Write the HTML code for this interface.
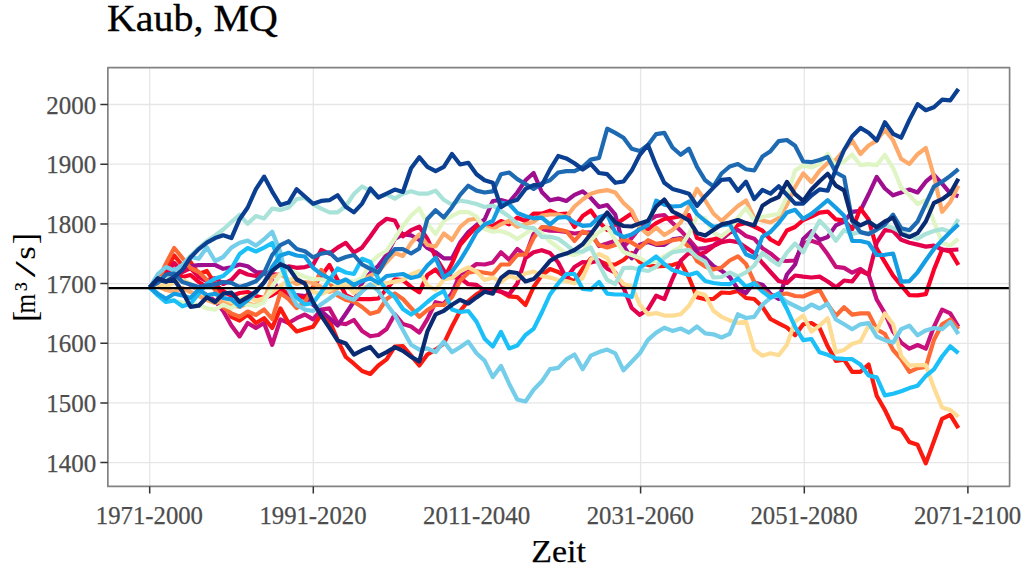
<!DOCTYPE html><html><head><meta charset="utf-8"><title>Kaub, MQ</title>
<style>html,body{margin:0;padding:0;background:#fff;}svg{display:block;font-family:"Liberation Serif","DejaVu Serif",serif;}</style></head><body>
<svg width="1031" height="567" viewBox="0 0 1031 567">
<rect x="0" y="0" width="1031" height="567" fill="#fff"/>
<path d="M149.7 67.6 V486.4 M313.3 67.6 V486.4 M640.6 67.6 V486.4 M804.3 67.6 V486.4 M967.9 67.6 V486.4 M107.85 462.6 H1009.6 M107.85 402.9 H1009.6 M107.85 343.3 H1009.6 M107.85 283.6 H1009.6 M107.85 223.9 H1009.6 M107.85 164.2 H1009.6 M107.85 104.5 H1009.6" stroke="#e6e6e6" stroke-width="1.3" fill="none"/>
<g fill="none" stroke-width="4.2" stroke-linejoin="round" stroke-linecap="butt">
<path d="M149.7 287.5 L157.9 283.0 L166.0 280.0 L174.2 275.0 L182.4 280.0 L190.5 285.0 L198.7 290.0 L206.9 295.0 L215.1 301.0 L223.2 310.9 L231.4 325.5 L239.6 336.4 L247.7 323.0 L255.9 327.9 L264.1 323.0 L272.2 344.9 L280.4 319.4 L288.6 323.0 L296.7 318.2 L304.9 314.5 L313.1 319.4 L321.2 309.6 L329.4 308.4 L337.6 323.0 L345.8 324.2 L353.9 320.0 L362.1 331.0 L370.3 336.3 L378.4 335.0 L386.6 329.0 L394.8 314.3 L402.9 324.1 L411.1 326.5 L419.3 332.6 L427.4 319.2 L435.6 302.2 L443.8 304.0 L452.0 293.0 L460.1 274.0 L468.3 270.0 L476.5 264.0 L484.6 264.5 L492.8 262.5 L501.0 252.3 L509.1 259.7 L517.3 248.9 L525.5 255.7 L533.6 234.0 L541.8 229.2 L550.0 230.6 L558.2 231.0 L566.3 232.0 L574.5 233.5 L582.7 232.6 L590.8 232.3 L599.0 246.0 L607.2 243.5 L615.3 240.7 L623.5 246.8 L631.7 238.0 L639.8 228.0 L648.0 221.0 L656.2 216.0 L664.3 215.0 L672.5 223.0 L680.7 230.6 L688.9 239.4 L697.0 248.9 L705.2 248.2 L713.4 245.5 L721.5 239.4 L729.7 232.6 L737.9 229.9 L746.0 236.0 L754.2 238.7 L762.4 248.2 L770.5 253.4 L778.7 260.3 L786.9 261.0 L795.1 260.5 L803.2 243.6 L811.4 240.7 L819.6 243.6 L827.7 254.3 L835.9 266.9 L844.1 267.9 L852.2 272.7 L860.4 268.9 L868.6 274.7 L876.7 299.5 L884.9 313.4 L893.1 331.6 L901.2 342.6 L909.4 348.7 L917.6 345.0 L925.8 348.7 L933.9 326.8 L942.1 309.7 L950.3 313.4 L958.4 326.8" stroke="#c8107c"/>
<path d="M149.7 287.5 L157.9 283.0 L166.0 270.0 L174.2 255.5 L182.4 265.5 L190.5 262.0 L198.7 274.0 L206.9 271.0 L215.1 284.0 L223.2 300.0 L231.4 316.9 L239.6 320.6 L247.7 314.5 L255.9 323.0 L264.1 318.2 L272.2 327.9 L280.4 308.4 L288.6 323.0 L296.7 331.5 L304.9 329.1 L313.1 326.7 L321.2 314.5 L329.4 320.6 L337.6 340.1 L345.8 357.0 L353.9 363.7 L362.1 371.0 L370.3 374.0 L378.4 365.5 L386.6 359.4 L394.8 346.5 L402.9 346.0 L411.1 355.7 L419.3 365.5 L427.4 354.5 L435.6 349.6 L443.8 343.6 L452.0 326.5 L460.1 311.0 L468.3 301.2 L476.5 294.4 L484.6 289.6 L492.8 289.0 L501.0 291.7 L509.1 296.4 L517.3 297.1 L525.5 305.0 L533.6 287.0 L541.8 275.4 L550.0 269.0 L558.2 272.0 L566.3 277.0 L574.5 281.5 L582.7 268.6 L590.8 258.5 L599.0 261.0 L607.2 264.5 L615.3 264.5 L623.5 260.0 L631.7 253.0 L639.8 262.0 L648.0 265.0 L656.2 266.5 L664.3 266.0 L672.5 265.0 L680.7 262.5 L688.9 277.5 L697.0 297.1 L705.2 299.3 L713.4 298.8 L721.5 292.5 L729.7 293.0 L737.9 291.0 L746.0 298.0 L754.2 299.0 L762.4 306.8 L770.5 319.0 L778.7 323.3 L786.9 327.5 L795.1 335.3 L803.2 324.3 L811.4 323.0 L819.6 328.0 L827.7 346.3 L835.9 360.9 L844.1 359.6 L852.2 371.8 L860.4 371.8 L868.6 364.5 L876.7 395.8 L884.9 410.0 L893.1 427.0 L901.2 429.7 L909.4 442.1 L917.6 444.8 L925.8 463.4 L933.9 441.3 L942.1 418.8 L950.3 414.9 L958.4 428.2" stroke="#fb1a10"/>
<path d="M149.7 287.5 L157.9 282.0 L166.0 276.0 L174.2 270.0 L182.4 267.0 L190.5 266.0 L198.7 265.2 L206.9 265.0 L215.1 265.0 L223.2 268.8 L231.4 267.2 L239.6 264.5 L247.7 266.2 L255.9 272.0 L264.1 272.6 L272.2 280.0 L280.4 292.0 L288.6 298.0 L296.7 295.0 L304.9 296.0 L313.1 304.9 L321.2 311.0 L329.4 318.0 L337.6 325.5 L345.8 313.7 L353.9 301.5 L362.1 282.8 L370.3 273.0 L378.4 265.7 L386.6 254.8 L394.8 238.9 L402.9 234.1 L411.1 235.3 L419.3 240.0 L427.4 248.0 L435.6 252.3 L443.8 258.4 L452.0 258.4 L460.1 242.6 L468.3 232.0 L476.5 225.0 L484.6 219.5 L492.8 201.0 L501.0 200.0 L509.1 202.2 L517.3 192.5 L525.5 180.3 L533.6 173.0 L541.8 192.0 L550.0 200.3 L558.2 198.6 L566.3 201.0 L574.5 194.9 L582.7 191.3 L590.8 198.0 L599.0 207.0 L607.2 205.0 L615.3 214.7 L623.5 246.2 L631.7 258.4 L639.8 244.8 L648.0 242.1 L656.2 244.8 L664.3 244.8 L672.5 239.4 L680.7 238.0 L688.9 243.0 L697.0 252.0 L705.2 258.0 L713.4 266.0 L721.5 270.6 L729.7 277.0 L737.9 289.0 L746.0 293.0 L754.2 282.5 L762.4 284.7 L770.5 294.0 L778.7 299.0 L786.9 274.5 L795.1 264.5 L803.2 239.0 L811.4 231.2 L819.6 239.9 L827.7 237.0 L835.9 225.4 L844.1 221.5 L852.2 211.8 L860.4 210.8 L868.6 194.3 L876.7 176.9 L884.9 188.5 L893.1 195.3 L901.2 192.4 L909.4 189.5 L917.6 192.4 L925.8 181.7 L933.9 174.9 L942.1 183.6 L950.3 193.3 L958.4 196.3" stroke="#a00e90"/>
<path d="M149.7 287.5 L157.9 285.0 L166.0 279.0 L174.2 270.0 L182.4 277.0 L190.5 275.0 L198.7 282.0 L206.9 287.0 L215.1 284.0 L223.2 291.0 L231.4 296.0 L239.6 293.0 L247.7 292.0 L255.9 296.0 L264.1 298.0 L272.2 295.0 L280.4 290.0 L288.6 293.0 L296.7 296.0 L304.9 298.0 L313.1 287.0 L321.2 276.0 L329.4 265.0 L337.6 280.0 L345.8 295.0 L353.9 299.1 L362.1 299.1 L370.3 299.1 L378.4 298.5 L386.6 289.0 L394.8 279.4 L402.9 280.1 L411.1 286.9 L419.3 292.3 L427.4 275.0 L435.6 269.5 L443.8 279.0 L452.0 263.3 L460.1 244.8 L468.3 235.3 L476.5 226.5 L484.6 227.2 L492.8 225.8 L501.0 221.0 L509.1 224.4 L517.3 217.7 L525.5 221.0 L533.6 213.6 L541.8 213.6 L550.0 210.6 L558.2 214.3 L566.3 213.6 L574.5 227.0 L582.7 216.0 L590.8 210.5 L599.0 222.0 L607.2 230.0 L615.3 224.4 L623.5 219.0 L631.7 213.6 L639.8 226.0 L648.0 229.2 L656.2 223.1 L664.3 219.0 L672.5 217.7 L680.7 216.3 L688.9 215.0 L697.0 238.0 L705.2 240.7 L713.4 239.4 L721.5 236.7 L729.7 231.0 L737.9 225.0 L746.0 223.0 L754.2 226.5 L762.4 230.6 L770.5 239.5 L778.7 244.0 L786.9 230.5 L795.1 227.0 L803.2 220.0 L811.4 216.5 L819.6 212.6 L827.7 211.6 L835.9 219.4 L844.1 220.4 L852.2 229.1 L860.4 208.5 L868.6 219.4 L876.7 248.5 L884.9 262.1 L893.1 275.7 L901.2 285.4 L909.4 295.1 L917.6 295.4 L925.8 294.1 L933.9 269.8 L942.1 249.5 L950.3 251.4 L958.4 265.0" stroke="#fa0029"/>
<path d="M149.7 287.5 L157.9 284.0 L166.0 274.0 L174.2 263.0 L182.4 272.0 L190.5 268.0 L198.7 277.0 L206.9 281.0 L215.1 278.0 L223.2 284.0 L231.4 280.0 L239.6 271.0 L247.7 274.5 L255.9 276.0 L264.1 272.0 L272.2 274.0 L280.4 275.0 L288.6 266.4 L296.7 267.8 L304.9 267.1 L313.1 264.7 L321.2 250.0 L329.4 253.7 L337.6 247.6 L345.8 242.8 L353.9 252.5 L362.1 247.6 L370.3 236.5 L378.4 225.0 L386.6 218.8 L394.8 220.5 L402.9 236.3 L411.1 230.2 L419.3 226.6 L427.4 238.8 L435.6 257.2 L443.8 270.6 L452.0 277.0 L460.1 278.0 L468.3 284.2 L476.5 284.9 L484.6 290.6 L492.8 290.0 L501.0 291.7 L509.1 294.4 L517.3 283.5 L525.5 258.0 L533.6 252.3 L541.8 250.2 L550.0 253.0 L558.2 262.5 L566.3 278.0 L574.5 267.0 L582.7 262.0 L590.8 262.5 L599.0 260.4 L607.2 268.6 L615.3 272.7 L623.5 287.6 L631.7 308.0 L639.8 314.8 L648.0 309.3 L656.2 295.7 L664.3 299.1 L672.5 278.8 L680.7 260.8 L688.9 253.0 L697.0 255.0 L705.2 252.3 L713.4 246.2 L721.5 242.1 L729.7 240.7 L737.9 242.1 L746.0 247.5 L754.2 253.0 L762.4 263.0 L770.5 272.0 L778.7 281.0 L786.9 283.0 L795.1 275.5 L803.2 276.6 L811.4 277.5 L819.6 276.6 L827.7 281.5 L835.9 287.3 L844.1 280.5 L852.2 281.5 L860.4 270.8 L868.6 274.7 L876.7 242.7 L884.9 230.1 L893.1 231.0 L901.2 239.8 L909.4 242.7 L917.6 244.6 L925.8 246.6 L933.9 245.6 L942.1 249.5 L950.3 250.0 L958.4 249.5" stroke="#e3004c"/>
<path d="M149.7 287.5 L157.9 281.0 L166.0 263.5 L174.2 248.0 L182.4 258.0 L190.5 268.0 L198.7 272.0 L206.9 280.0 L215.1 290.0 L223.2 307.0 L231.4 313.5 L239.6 316.8 L247.7 311.5 L255.9 315.0 L264.1 309.5 L272.2 319.0 L280.4 293.0 L288.6 299.0 L296.7 308.0 L304.9 302.0 L313.1 288.0 L321.2 270.0 L329.4 282.0 L337.6 295.5 L345.8 300.0 L353.9 301.8 L362.1 307.0 L370.3 313.8 L378.4 311.5 L386.6 299.0 L394.8 293.5 L402.9 299.0 L411.1 308.0 L419.3 316.8 L427.4 310.0 L435.6 305.0 L443.8 305.0 L452.0 297.0 L460.1 280.8 L468.3 272.7 L476.5 271.3 L484.6 272.7 L492.8 274.0 L501.0 264.5 L509.1 264.5 L517.3 255.0 L525.5 254.3 L533.6 238.0 L541.8 227.0 L550.0 227.4 L558.2 229.6 L566.3 231.2 L574.5 241.0 L582.7 231.4 L590.8 235.0 L599.0 245.0 L607.2 247.5 L615.3 245.0 L623.5 238.9 L631.7 242.6 L639.8 247.5 L648.0 240.2 L656.2 243.8 L664.3 242.6 L672.5 240.2 L680.7 238.9 L688.9 247.0 L697.0 261.0 L705.2 266.5 L713.4 269.5 L721.5 267.5 L729.7 260.5 L737.9 256.3 L746.0 264.0 L754.2 281.8 L762.4 290.0 L770.5 296.0 L778.7 294.6 L786.9 293.5 L795.1 296.0 L803.2 296.5 L811.4 293.0 L819.6 290.0 L827.7 304.5 L835.9 315.8 L844.1 307.3 L852.2 314.6 L860.4 313.4 L868.6 313.4 L876.7 329.2 L884.9 334.0 L893.1 350.0 L901.2 359.0 L909.4 371.8 L917.6 368.2 L925.8 367.0 L933.9 340.0 L942.1 324.3 L950.3 319.5 L958.4 329.2" stroke="#fd6a35"/>
<path d="M149.7 287.5 L157.9 286.0 L166.0 290.0 L174.2 292.0 L182.4 288.0 L190.5 292.0 L198.7 296.0 L206.9 300.0 L215.1 303.0 L223.2 301.0 L231.4 305.0 L239.6 307.0 L247.7 303.0 L255.9 306.0 L264.1 300.0 L272.2 277.0 L280.4 274.0 L288.6 280.0 L296.7 284.0 L304.9 282.0 L313.1 283.0 L321.2 287.0 L329.4 292.0 L337.6 288.0 L345.8 284.0 L353.9 286.0 L362.1 280.0 L370.3 275.5 L378.4 272.0 L386.6 262.0 L394.8 253.0 L402.9 256.0 L411.1 243.0 L419.3 234.5 L427.4 245.0 L435.6 246.5 L443.8 233.5 L452.0 240.0 L460.1 227.0 L468.3 220.0 L476.5 218.5 L484.6 226.7 L492.8 229.2 L501.0 224.3 L509.1 220.6 L517.3 226.7 L525.5 224.3 L533.6 221.8 L541.8 215.7 L550.0 214.5 L558.2 214.5 L566.3 217.0 L574.5 206.5 L582.7 199.5 L590.8 193.7 L599.0 191.3 L607.2 190.1 L615.3 192.5 L623.5 203.0 L631.7 210.5 L639.8 227.5 L648.0 234.5 L656.2 227.6 L664.3 235.0 L672.5 230.0 L680.7 222.5 L688.9 206.5 L697.0 188.9 L705.2 200.5 L713.4 213.5 L721.5 221.0 L729.7 213.5 L737.9 206.0 L746.0 200.5 L754.2 217.8 L762.4 220.5 L770.5 222.5 L778.7 218.0 L786.9 205.0 L795.1 187.0 L803.2 173.5 L811.4 182.0 L819.6 170.8 L827.7 163.0 L835.9 160.0 L844.1 150.0 L852.2 140.6 L860.4 154.0 L868.6 145.5 L876.7 140.6 L884.9 129.6 L893.1 140.3 L901.2 159.0 L909.4 164.0 L917.6 154.2 L925.8 148.0 L933.9 176.0 L942.1 211.8 L950.3 202.0 L958.4 185.6" stroke="#fdaa6a"/>
<path d="M149.7 287.5 L157.9 284.0 L166.0 286.0 L174.2 283.0 L182.4 280.0 L190.5 284.0 L198.7 290.0 L206.9 296.0 L215.1 294.0 L223.2 298.0 L231.4 302.0 L239.6 300.0 L247.7 296.0 L255.9 301.0 L264.1 298.0 L272.2 292.0 L280.4 286.0 L288.6 280.0 L296.7 278.0 L304.9 284.0 L313.1 292.0 L321.2 294.0 L329.4 290.0 L337.6 285.6 L345.8 284.2 L353.9 293.0 L362.1 288.0 L370.3 285.2 L378.4 284.0 L386.6 283.2 L394.8 281.5 L402.9 280.0 L411.1 274.5 L419.3 271.0 L427.4 285.5 L435.6 290.0 L443.8 279.5 L452.0 278.0 L460.1 271.4 L468.3 267.3 L476.5 271.5 L484.6 280.0 L492.8 277.5 L501.0 282.0 L509.1 276.0 L517.3 278.5 L525.5 273.5 L533.6 271.5 L541.8 275.8 L550.0 277.6 L558.2 280.0 L566.3 281.0 L574.5 283.5 L582.7 278.0 L590.8 259.5 L599.0 254.0 L607.2 258.0 L615.3 273.5 L623.5 284.1 L631.7 286.2 L639.8 304.6 L648.0 314.3 L656.2 313.1 L664.3 315.6 L672.5 315.6 L680.7 314.3 L688.9 305.8 L697.0 292.4 L705.2 294.9 L713.4 310.7 L721.5 316.8 L729.7 320.4 L737.9 322.9 L746.0 321.6 L754.2 349.6 L762.4 355.7 L770.5 353.3 L778.7 355.2 L786.9 344.8 L795.1 321.6 L803.2 315.6 L811.4 331.6 L819.6 325.6 L827.7 318.3 L835.9 352.3 L844.1 349.9 L852.2 343.8 L860.4 341.4 L868.6 325.6 L876.7 330.4 L884.9 313.4 L893.1 324.3 L901.2 356.0 L909.4 365.7 L917.6 365.2 L925.8 365.2 L933.9 387.6 L942.1 407.5 L950.3 410.0 L958.4 416.8" stroke="#fedc94"/>
<path d="M149.7 287.5 L157.9 293.8 L166.0 298.7 L174.2 301.1 L182.4 302.3 L190.5 303.6 L198.7 304.8 L206.9 308.4 L215.1 309.6 L223.2 304.8 L231.4 308.4 L239.6 302.3 L247.7 304.8 L255.9 306.0 L264.1 302.3 L272.2 286.5 L280.4 274.3 L288.6 269.5 L296.7 273.1 L304.9 276.8 L313.1 279.2 L321.2 279.3 L329.4 281.0 L337.6 283.0 L345.8 280.0 L353.9 282.0 L362.1 278.0 L370.3 263.0 L378.4 255.5 L386.6 250.8 L394.8 238.5 L402.9 225.9 L411.1 215.6 L419.3 208.3 L427.4 223.9 L435.6 234.0 L443.8 221.0 L452.0 216.0 L460.1 211.8 L468.3 212.2 L476.5 216.5 L484.6 229.0 L492.8 231.7 L501.0 231.0 L509.1 234.0 L517.3 239.0 L525.5 233.5 L533.6 228.5 L541.8 233.0 L550.0 241.5 L558.2 247.5 L566.3 254.0 L574.5 255.0 L582.7 252.0 L590.8 240.0 L599.0 232.0 L607.2 227.0 L615.3 240.0 L623.5 252.0 L631.7 255.0 L639.8 258.0 L648.0 263.0 L656.2 261.0 L680.7 246.8 L688.9 233.9 L697.0 216.3 L705.2 218.3 L713.4 232.6 L721.5 236.7 L729.7 229.9 L737.9 217.8 L746.0 208.0 L754.2 220.0 L762.4 217.0 L770.5 215.4 L778.7 214.0 L786.9 196.8 L795.1 170.5 L803.2 165.4 L811.4 167.5 L819.6 163.8 L827.7 153.8 L835.9 166.0 L844.1 161.3 L852.2 154.5 L860.4 165.2 L868.6 164.2 L876.7 165.2 L884.9 154.8 L893.1 168.1 L901.2 187.5 L909.4 195.3 L917.6 204.0 L925.8 200.1 L933.9 221.5 L942.1 242.8 L950.3 245.7 L958.4 238.9" stroke="#dff5c4"/>
<path d="M149.7 287.5 L157.9 279.0 L166.0 277.0 L174.2 272.0 L182.4 265.0 L190.5 256.0 L198.7 248.0 L206.9 241.0 L215.1 235.5 L223.2 229.5 L231.4 222.0 L239.6 214.8 L247.7 223.8 L255.9 216.0 L264.1 218.4 L272.2 208.7 L280.4 209.9 L288.6 207.5 L296.7 199.0 L304.9 198.0 L313.1 204.3 L321.2 208.7 L329.4 212.3 L337.6 212.3 L345.8 206.0 L353.9 194.0 L362.1 186.5 L370.3 190.8 L378.4 197.0 L386.6 194.4 L394.8 198.6 L402.9 193.7 L411.1 191.3 L419.3 193.7 L427.4 193.7 L435.6 190.6 L443.8 199.8 L452.0 204.7 L460.1 200.5 L468.3 202.0 L476.5 204.0 L484.6 207.0 L492.8 205.5 L501.0 211.0 L509.1 216.5 L517.3 223.5 L525.5 227.3 L533.6 228.0 L541.8 237.0 L550.0 236.7 L558.2 238.7 L566.3 244.8 L574.5 251.5 L582.7 251.5 L590.8 247.5 L599.0 264.5 L607.2 280.0 L615.3 284.0 L623.5 268.0 L631.7 267.7 L639.8 269.5 L648.0 271.0 L656.2 266.8 L664.3 258.0 L672.5 252.3 L680.7 251.0 L688.9 249.8 L697.0 257.0 L705.2 261.5 L713.4 277.5 L721.5 277.0 L729.7 272.5 L737.9 276.5 L746.0 272.3 L754.2 265.5 L762.4 253.0 L770.5 259.4 L778.7 265.0 L786.9 252.7 L795.1 243.5 L803.2 252.3 L811.4 235.5 L819.6 220.8 L827.7 229.0 L835.9 240.7 L844.1 230.1 L852.2 233.9 L860.4 232.0 L868.6 234.0 L876.7 230.0 L884.9 225.2 L893.1 228.0 L901.2 232.0 L909.4 236.0 L917.6 238.8 L925.8 233.9 L933.9 231.0 L942.1 229.1 L950.3 232.0 L958.4 219.2" stroke="#a8e2d8"/>
<path d="M149.7 287.5 L157.9 274.0 L166.0 267.0 L174.2 270.5 L182.4 265.0 L190.5 257.0 L198.7 258.8 L206.9 247.2 L215.1 261.0 L223.2 257.0 L231.4 247.6 L239.6 242.7 L247.7 240.6 L255.9 245.6 L264.1 239.2 L272.2 231.8 L280.4 252.0 L288.6 290.0 L296.7 304.9 L304.9 309.6 L313.1 311.0 L321.2 304.2 L329.4 298.5 L337.6 292.5 L345.8 297.0 L353.9 299.8 L362.1 291.5 L370.3 284.2 L378.4 291.0 L386.6 304.0 L394.8 315.0 L402.9 330.0 L411.1 344.8 L419.3 349.6 L427.4 348.4 L435.6 352.1 L443.8 341.6 L452.0 352.1 L460.1 347.2 L468.3 341.6 L476.5 353.3 L484.6 360.6 L492.8 377.1 L501.0 365.9 L509.1 383.7 L517.3 399.5 L525.5 401.5 L533.6 389.8 L541.8 381.3 L550.0 369.1 L558.2 367.9 L566.3 359.4 L574.5 354.5 L582.7 369.1 L590.8 355.7 L599.0 352.1 L607.2 349.6 L615.3 353.3 L623.5 370.3 L631.7 361.8 L639.8 353.3 L648.0 339.9 L656.2 332.6 L664.3 327.7 L672.5 330.9 L680.7 328.5 L688.9 332.6 L697.0 326.5 L705.2 333.3 L713.4 334.3 L721.5 337.5 L729.7 333.8 L737.9 314.3 L746.0 318.0 L754.2 316.8 L762.4 304.6 L770.5 297.8 L778.7 295.0 L786.9 302.0 L795.1 306.0 L803.2 310.0 L811.4 304.5 L819.6 308.5 L827.7 303.6 L835.9 319.5 L844.1 324.3 L852.2 329.2 L860.4 324.3 L868.6 323.1 L876.7 336.5 L884.9 340.2 L893.1 342.6 L901.2 329.2 L909.4 325.6 L917.6 335.3 L925.8 330.4 L933.9 328.0 L942.1 329.2 L950.3 321.9 L958.4 334.0" stroke="#74cde9"/>
<path d="M149.7 287.5 L157.9 295.4 L166.0 302.0 L174.2 300.4 L182.4 306.3 L190.5 303.8 L198.7 293.7 L206.9 283.7 L215.1 278.6 L223.2 276.0 L231.4 268.6 L239.6 254.0 L247.7 248.0 L255.9 251.5 L264.1 247.6 L272.2 243.0 L280.4 264.4 L288.6 284.0 L296.7 297.5 L304.9 304.5 L313.1 303.0 L321.2 292.0 L329.4 279.8 L337.6 268.5 L345.8 272.5 L353.9 274.0 L362.1 258.8 L370.3 262.0 L378.4 279.0 L386.6 290.3 L394.8 297.0 L402.9 309.0 L411.1 314.6 L419.3 309.0 L427.4 302.0 L435.6 295.5 L443.8 291.0 L452.0 309.4 L460.1 312.0 L468.3 311.0 L476.5 321.6 L484.6 338.7 L492.8 346.5 L501.0 331.9 L509.1 348.4 L517.3 345.5 L525.5 335.0 L533.6 328.9 L541.8 312.5 L550.0 294.5 L558.2 283.5 L566.3 274.0 L574.5 274.0 L582.7 289.0 L590.8 289.6 L599.0 282.0 L607.2 293.7 L615.3 294.5 L623.5 294.5 L631.7 297.0 L639.8 267.5 L648.0 262.5 L656.2 256.5 L664.3 264.0 L672.5 270.0 L680.7 272.5 L688.9 275.0 L697.0 272.5 L705.2 281.0 L713.4 283.0 L721.5 284.0 L729.7 284.2 L737.9 278.5 L746.0 286.7 L754.2 283.2 L762.4 291.5 L770.5 297.6 L778.7 293.3 L786.9 309.0 L795.1 327.0 L803.2 340.2 L811.4 339.0 L819.6 352.3 L827.7 354.8 L835.9 358.4 L844.1 358.9 L852.2 359.2 L860.4 364.5 L868.6 375.5 L876.7 377.4 L884.9 395.4 L893.1 393.7 L901.2 391.3 L909.4 388.1 L917.6 385.7 L925.8 376.0 L933.9 369.4 L942.1 356.5 L950.3 346.3 L958.4 353.1" stroke="#1cc0f8"/>
<path d="M149.7 287.5 L157.9 293.7 L166.0 298.7 L174.2 293.7 L182.4 295.4 L190.5 297.9 L198.7 289.5 L206.9 295.4 L215.1 293.7 L223.2 298.0 L231.4 299.4 L239.6 306.5 L247.7 300.0 L255.9 292.5 L264.1 282.5 L272.2 267.0 L280.4 255.5 L288.6 252.8 L296.7 255.5 L304.9 256.5 L313.1 267.8 L321.2 274.2 L329.4 278.5 L337.6 283.0 L345.8 279.5 L353.9 285.0 L362.1 281.0 L370.3 278.2 L378.4 283.0 L386.6 276.0 L394.8 275.0 L402.9 274.0 L411.1 278.0 L419.3 276.0 L427.4 265.5 L435.6 257.8 L443.8 277.6 L452.0 271.5 L460.1 260.5 L468.3 247.0 L476.5 232.3 L484.6 224.4 L492.8 221.0 L501.0 202.7 L509.1 204.0 L517.3 212.9 L525.5 216.3 L533.6 218.3 L541.8 217.7 L550.0 224.4 L558.2 217.7 L566.3 217.0 L574.5 222.4 L582.7 225.8 L590.8 225.1 L599.0 217.3 L607.2 214.6 L615.3 232.5 L623.5 237.0 L631.7 234.6 L639.8 229.2 L648.0 225.1 L656.2 200.7 L664.3 204.7 L672.5 206.5 L680.7 206.0 L688.9 201.5 L697.0 214.0 L705.2 221.0 L713.4 227.0 L721.5 225.4 L729.7 224.1 L737.9 239.4 L746.0 254.3 L754.2 257.7 L762.4 236.7 L770.5 231.9 L778.7 223.0 L786.9 212.5 L795.1 209.8 L803.2 218.8 L811.4 213.8 L819.6 207.0 L827.7 200.2 L835.9 207.8 L844.1 215.8 L852.2 240.8 L860.4 241.0 L868.6 243.0 L876.7 255.0 L884.9 254.8 L893.1 253.5 L901.2 281.6 L909.4 281.2 L917.6 272.3 L925.8 260.3 L933.9 249.0 L942.1 240.3 L950.3 232.0 L958.4 224.4" stroke="#159de3"/>
<path d="M149.7 287.5 L157.9 282.8 L166.0 274.5 L174.2 273.6 L182.4 282.0 L190.5 284.5 L198.7 287.0 L206.9 285.3 L215.1 284.5 L223.2 282.0 L231.4 282.8 L239.6 287.0 L247.7 284.5 L255.9 281.2 L264.1 272.8 L272.2 255.0 L280.4 245.1 L288.6 241.2 L296.7 249.0 L304.9 251.2 L313.1 257.4 L321.2 253.7 L329.4 252.3 L337.6 260.2 L345.8 257.0 L353.9 255.0 L362.1 264.5 L370.3 268.8 L378.4 272.5 L386.6 258.5 L394.8 249.0 L402.9 249.2 L411.1 253.5 L419.3 248.5 L427.4 219.0 L435.6 210.2 L443.8 217.5 L452.0 207.2 L460.1 194.9 L468.3 185.7 L476.5 190.6 L484.6 192.5 L492.8 191.3 L501.0 174.2 L509.1 172.5 L517.3 179.1 L525.5 184.0 L533.6 188.9 L541.8 183.3 L550.0 180.3 L558.2 172.5 L566.3 171.1 L574.5 171.1 L582.7 167.0 L590.8 159.6 L599.0 157.9 L607.2 128.7 L615.3 132.9 L623.5 137.7 L631.7 148.7 L639.8 151.1 L648.0 145.0 L656.2 134.1 L664.3 132.9 L672.5 147.5 L680.7 154.8 L688.9 148.7 L697.0 166.9 L705.2 180.3 L713.4 186.4 L721.5 173.5 L729.7 166.5 L737.9 164.0 L746.0 169.2 L754.2 170.5 L762.4 156.6 L770.5 151.2 L778.7 141.2 L786.9 140.0 L795.1 145.8 L803.2 161.5 L811.4 162.2 L819.6 160.0 L827.7 157.0 L835.9 172.5 L844.1 177.0 L852.2 221.0 L860.4 232.1 L868.6 234.1 L876.7 229.6 L884.9 224.4 L893.1 214.7 L901.2 228.3 L909.4 230.2 L917.6 221.5 L925.8 204.0 L933.9 186.6 L942.1 181.7 L950.3 175.9 L958.4 169.1" stroke="#1d6ab3"/>
<path d="M149.7 287.5 L157.9 279.4 L166.0 281.8 L174.2 276.9 L182.4 269.9 L190.5 257.5 L198.7 249.1 L206.9 242.7 L215.1 238.1 L223.2 235.3 L231.4 238.1 L239.6 219.2 L247.7 207.5 L255.9 189.2 L264.1 176.6 L272.2 191.6 L280.4 205.0 L288.6 202.6 L296.7 189.2 L304.9 196.5 L313.1 203.8 L321.2 200.9 L329.4 200.2 L337.6 195.3 L345.8 206.7 L353.9 212.4 L362.1 203.6 L370.3 188.4 L378.4 197.5 L386.6 193.7 L394.8 189.6 L402.9 192.0 L411.1 168.2 L419.3 157.2 L427.4 166.9 L435.6 171.1 L443.8 166.9 L452.0 154.0 L460.1 164.5 L468.3 162.8 L476.5 174.2 L484.6 180.3 L492.8 182.8 L501.0 207.1 L509.1 202.2 L517.3 199.8 L525.5 188.9 L533.6 185.2 L541.8 185.2 L550.0 169.4 L558.2 156.0 L566.3 158.4 L574.5 163.3 L582.7 169.5 L590.8 164.0 L599.0 173.0 L607.2 174.2 L615.3 182.8 L623.5 181.5 L631.7 170.6 L639.8 154.8 L648.0 145.0 L656.2 165.7 L664.3 182.8 L672.5 188.9 L680.7 191.3 L688.9 193.7 L697.0 205.9 L705.2 196.2 L713.4 187.6 L721.5 179.8 L729.7 179.2 L737.9 190.8 L746.0 181.7 L754.2 199.1 L762.4 190.0 L770.5 193.6 L778.7 186.3 L786.9 194.8 L795.1 203.6 L803.2 203.6 L811.4 195.5 L819.6 189.4 L827.7 190.7 L835.9 169.0 L844.1 150.0 L852.2 136.2 L860.4 127.9 L868.6 132.8 L876.7 140.6 L884.9 122.3 L893.1 133.8 L901.2 137.7 L909.4 119.9 L917.6 104.1 L925.8 110.2 L933.9 107.2 L942.1 99.7 L950.3 100.4 L958.4 89.0" stroke="#0a3f91"/>
<path d="M149.7 287.5 L157.9 278.1 L166.0 281.4 L174.2 279.8 L182.4 291.5 L190.5 306.8 L198.7 305.7 L206.9 297.2 L215.1 302.1 L223.2 293.7 L231.4 292.6 L239.6 301.8 L247.7 297.2 L255.9 291.5 L264.1 282.4 L272.2 270.8 L280.4 264.2 L288.6 267.7 L296.7 279.5 L304.9 283.5 L313.1 302.3 L321.2 315.7 L329.4 327.9 L337.6 340.5 L345.8 343.5 L353.9 354.6 L362.1 350.3 L370.3 347.0 L378.4 356.4 L386.6 352.1 L394.8 347.2 L402.9 350.9 L411.1 356.9 L419.3 361.3 L427.4 331.4 L435.6 314.4 L443.8 310.8 L452.0 304.7 L460.1 299.8 L468.3 303.5 L476.5 297.4 L484.6 291.8 L492.8 293.7 L501.0 277.9 L509.1 271.8 L517.3 273.0 L525.5 281.5 L533.6 279.1 L541.8 270.6 L550.0 260.9 L558.2 256.0 L566.3 253.6 L574.5 250.0 L582.7 244.3 L590.8 234.0 L599.0 223.0 L607.2 212.5 L615.3 222.5 L623.5 226.0 L631.7 226.5 L639.8 223.4 L648.0 220.8 L656.2 206.5 L664.3 199.5 L672.5 211.5 L680.7 215.7 L688.9 220.5 L697.0 233.0 L705.2 235.5 L713.4 230.0 L721.5 224.4 L729.7 222.5 L737.9 220.0 L746.0 223.3 L754.2 225.3 L762.4 205.7 L770.5 200.5 L778.7 197.0 L786.9 181.9 L795.1 194.1 L803.2 200.9 L811.4 189.4 L819.6 181.2 L827.7 173.8 L835.9 185.6 L844.1 190.4 L852.2 220.0 L860.4 225.4 L868.6 221.5 L876.7 227.3 L884.9 221.5 L893.1 217.6 L901.2 234.1 L909.4 237.0 L917.6 233.1 L925.8 221.5 L933.9 203.0 L942.1 199.2 L950.3 193.3 L958.4 178.8" stroke="#0a2a72"/>
</g>
<path d="M107.85 288.2 H1009.6" stroke="#000" stroke-width="2.3"/>
<rect x="107.85" y="67.6" width="901.75" height="418.79999999999995" fill="none" stroke="#828282" stroke-width="1.7" stroke-linejoin="round"/>
<path d="M149.7 486.4 v7 M313.3 486.4 v7 M640.6 486.4 v7 M804.3 486.4 v7 M967.9 486.4 v7 M107.85 462.6 h-7.5 M107.85 402.9 h-7.5 M107.85 343.3 h-7.5 M107.85 283.6 h-7.5 M107.85 223.9 h-7.5 M107.85 164.2 h-7.5 M107.85 104.5 h-7.5" stroke="#333" stroke-width="1.5" fill="none"/>
<text x="96.2" y="471.6" text-anchor="end" font-size="25.6" fill="#4d4d4d" stroke="#4d4d4d" stroke-width="0.25" textLength="50.0" lengthAdjust="spacingAndGlyphs">1400</text>
<text x="96.2" y="411.9" text-anchor="end" font-size="25.6" fill="#4d4d4d" stroke="#4d4d4d" stroke-width="0.25" textLength="50.0" lengthAdjust="spacingAndGlyphs">1500</text>
<text x="96.2" y="352.3" text-anchor="end" font-size="25.6" fill="#4d4d4d" stroke="#4d4d4d" stroke-width="0.25" textLength="50.0" lengthAdjust="spacingAndGlyphs">1600</text>
<text x="96.2" y="292.6" text-anchor="end" font-size="25.6" fill="#4d4d4d" stroke="#4d4d4d" stroke-width="0.25" textLength="50.0" lengthAdjust="spacingAndGlyphs">1700</text>
<text x="96.2" y="232.9" text-anchor="end" font-size="25.6" fill="#4d4d4d" stroke="#4d4d4d" stroke-width="0.25" textLength="50.0" lengthAdjust="spacingAndGlyphs">1800</text>
<text x="96.2" y="173.2" text-anchor="end" font-size="25.6" fill="#4d4d4d" stroke="#4d4d4d" stroke-width="0.25" textLength="50.0" lengthAdjust="spacingAndGlyphs">1900</text>
<text x="96.2" y="113.5" text-anchor="end" font-size="25.6" fill="#4d4d4d" stroke="#4d4d4d" stroke-width="0.25" textLength="50.0" lengthAdjust="spacingAndGlyphs">2000</text>
<text x="149.4" y="523.9" text-anchor="middle" font-size="25.6" fill="#4d4d4d" stroke="#4d4d4d" stroke-width="0.25" textLength="107.2" lengthAdjust="spacingAndGlyphs">1971-2000</text>
<text x="313.0" y="523.9" text-anchor="middle" font-size="25.6" fill="#4d4d4d" stroke="#4d4d4d" stroke-width="0.25" textLength="107.2" lengthAdjust="spacingAndGlyphs">1991-2020</text>
<text x="476.7" y="523.9" text-anchor="middle" font-size="25.6" fill="#4d4d4d" stroke="#4d4d4d" stroke-width="0.25" textLength="107.2" lengthAdjust="spacingAndGlyphs">2011-2040</text>
<text x="640.3" y="523.9" text-anchor="middle" font-size="25.6" fill="#4d4d4d" stroke="#4d4d4d" stroke-width="0.25" textLength="107.2" lengthAdjust="spacingAndGlyphs">2031-2060</text>
<text x="804.0" y="523.9" text-anchor="middle" font-size="25.6" fill="#4d4d4d" stroke="#4d4d4d" stroke-width="0.25" textLength="107.2" lengthAdjust="spacingAndGlyphs">2051-2080</text>
<text x="967.6" y="523.9" text-anchor="middle" font-size="25.6" fill="#4d4d4d" stroke="#4d4d4d" stroke-width="0.25" textLength="107.2" lengthAdjust="spacingAndGlyphs">2071-2100</text>
<text x="558.6" y="561.7" text-anchor="middle" font-size="32.6" fill="#000" stroke="#000" stroke-width="0.25" textLength="54.6" lengthAdjust="spacingAndGlyphs">Zeit</text>
<g transform="translate(35.2 277.3) rotate(-90)" fill="#000"><text font-size="34" x="-44.6" y="1.2">[</text><text font-size="29.5" x="-36.2" y="0" textLength="19.6" lengthAdjust="spacingAndGlyphs">m</text><text font-size="29.5" x="-13.6" y="0">³</text><text font-size="30" x="-0.2" y="-0.5" textLength="16.5" lengthAdjust="spacingAndGlyphs">/</text><text font-size="29.5" x="17.6" y="0" textLength="13.6" lengthAdjust="spacingAndGlyphs">s</text><text font-size="34" x="33.0" y="1.2">]</text></g>
<text x="107.0" y="30.9" font-size="37" fill="#000" stroke="#000" stroke-width="0.3" textLength="170.8" lengthAdjust="spacingAndGlyphs">Kaub, MQ</text>
</svg></body></html>
